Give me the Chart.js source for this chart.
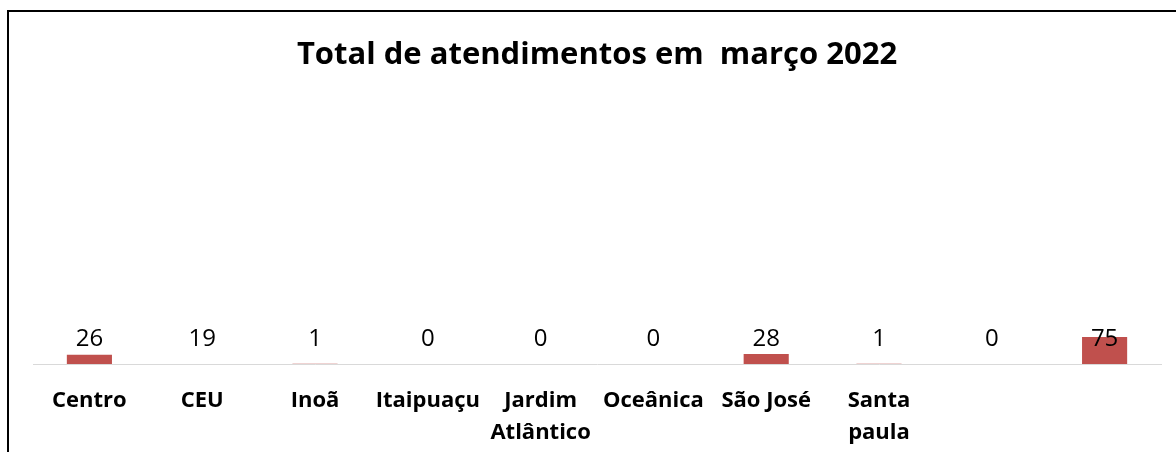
<!DOCTYPE html>
<html>
<head>
<meta charset="utf-8">
<script src="https://cdn.jsdelivr.net/npm/chart.js@4/dist/chart.umd.min.js"></script>
<style>
  html, body { margin:0; padding:0; background:#fff; }
  body { width:1176px; height:452px; position:relative; overflow:hidden; }
  .frame { position:absolute; left:7px; top:10px; width:1300px; height:600px;
           border-left:2px solid #000; border-top:2px solid #000; box-sizing:border-box; }
  #wrap { position:absolute; left:0; top:0; width:1176px; height:452px; }
</style>
</head>
<body>
<div class="frame"></div>
<div id="wrap"><canvas id="chart"></canvas></div>
<script>
const categorias = ["Centro", "CEU", "Inoã", "Itaipuaçu", ["Jardim", "Atlântico"], "Oceânica", "São José", ["Santa", "paula"], "", ""];
// values printed above each category
const atendimentos = [26, 19, 1, 0, 0, 0, 28, 1, 0, 75];
// bar heights as drawn in the source (CEU has no bar there)
const barras = [26, null, 1, 0, 0, 0, 28, 1, 0, 75];
const Y_MAX = 750;

const FONT = "'Open Sans', 'Liberation Sans', sans-serif";

// fixed-row data labels above the axis, like the Excel original
const rotulos = {
  id: "rotulos",
  afterDatasetsDraw(chart) {
    const { ctx, scales: { x }, chartArea } = chart;
    ctx.save();
    ctx.font = `24px ${FONT}`;
    ctx.fillStyle = "#000";
    ctx.textAlign = "center";
    ctx.textBaseline = "middle";
    atendimentos.forEach((v, i) => {
      ctx.fillText(String(v), x.getPixelForValue(i), chartArea.bottom - 25);
    });
    ctx.restore();
  }
};

new Chart(document.getElementById("chart"), {
  type: "bar",
  data: {
    labels: categorias,
    datasets: [{
      label: "Atendimentos",
      data: barras,
      backgroundColor: "#C0504D",
      barPercentage: 0.4,
      categoryPercentage: 1
    }]
  },
  options: {
    responsive: true,
    maintainAspectRatio: false,
    animation: false,
    layout: { padding: { left: 33, right: 15, top: 0, bottom: 0 } },
    plugins: {
      legend: { display: false },
      tooltip: { enabled: false },
      title: {
        display: true,
        text: "Total de atendimentos em  março 2022",
        color: "#000",
        font: { family: FONT, size: 31, weight: "bold" },
        padding: { top: 37, bottom: 20 }
      }
    },
    scales: {
      x: {
        grid: { display: false },
        border: { display: true, color: "#D9D9D9", width: 1 },
        ticks: {
          color: "#000",
          font: { family: FONT, size: 22, weight: "bold", lineHeight: 1.45 },
          maxRotation: 0,
          autoSkip: false,
          padding: 13
        },
        afterFit(scale) { scale.height = 88; }
      },
      y: { display: false, min: 0, max: Y_MAX }
    }
  },
  plugins: [rotulos]
});
</script>
</body>
</html>
